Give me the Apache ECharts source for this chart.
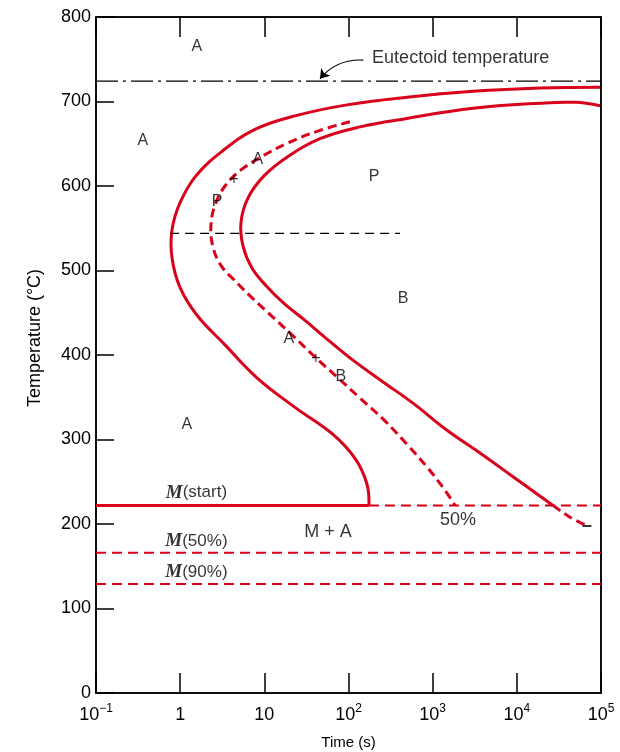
<!DOCTYPE html>
<html><head><meta charset="utf-8">
<script src="https://cdn.jsdelivr.net/npm/echarts@6/dist/echarts.min.js"></script>
<style>html,body{margin:0;padding:0;background:#fff}#c{width:620px;height:752px}</style>
</head><body><div id="c"></div>
<script>
// ---- data (time in s, temperature in °C) ----
const timeTicks = [0.1, 1, 10, 100, 1000, 10000, 100000];
const tempTicks = [0, 100, 200, 300, 400, 500, 600, 700, 800];

// start of transformation (solid)
const startTime = [97300, 18840, 3013, 495, 95.9, 23.1, 7.74, 3.14, 1.54, 0.995, 0.80, 0.80, 0.995, 1.585, 3.41, 8.18, 23.1, 65.4, 122.7, 166, 175];
const startTemp = [717, 716, 712, 705, 696, 683, 667, 641, 612, 580, 548, 515, 480, 447, 412, 373, 338, 306, 276, 247, 222];

// 50% completion (dashed)
const halfTime = [104, 43.4, 19.1, 9.38, 5.28, 3.41, 2.59, 2.32, 2.45, 3.05, 4.36, 6.76, 11.1, 20.2, 37.8, 73, 137, 271, 509, 880, 1400, 1842];
const halfTemp = [676, 665, 651, 635, 619, 600, 577, 553, 528, 506, 489, 470, 450, 426, 400, 374, 349, 322, 293, 266, 240, 222];

// completion of transformation (solid), tail below Ms (dashed)
const finishTime = [97300, 49100, 18840, 3013, 495, 137, 45.8, 19.1, 9.91, 6.40, 5.28, 5.58, 7.13, 10.5, 17.1, 30.4, 57, 116, 250, 583, 1480, 3650, 9000, 26900];
const finishTemp = [695, 699, 698, 692, 680, 670, 656, 635, 612, 586, 557, 529, 503, 482, 461, 441, 418, 393, 369, 343, 311, 284, 256, 222];
const finishTailTime = [26900, 42800, 64500];
const finishTailTemp = [222, 208, 199];
const endMarkTime = [68000], endMarkTemp = [197.6];

const eutectoidTemp = 724;
const msTemp = 222, msSolidEnd = 175;
const m50Temp = 166;
const m90Temp = 129;
const pbTemp = 544, pbFrom = 0.76, pbTo = 409;

const labelTexts = ['A', 'A', 'A', '+', 'P', 'P', 'B', 'A', '+', 'B', 'A', 'M(start)', '50%', 'M + A', 'M(50%)', 'M(90%)', 'Eutectoid temperature'];
const labelTimes = [1.58, 0.36, 8.4, 4.36, 2.74, 201, 444, 19.6, 41, 81, 1.2, 1.56, 2000, 57, 1.56, 1.56, 2150];
const labelTemps = [765, 654, 631, 607, 581, 611, 467, 420, 396, 374, 318, 237, 205, 191, 180, 143, 751];

const arrowFrom = [150, 749], arrowTo = [45.8, 727];

// ---- chart ----
const RED = '#d9001b';
const FONT = '"Liberation Sans", Arial, sans-serif';
const zip = (a, b) => a.map((v, i) => [v, b[i]]);
const hline = (y, x0, x1) => [[x0, y], [x1, y]];

const chart = echarts.init(document.getElementById('c'), null, {renderer: 'canvas'});

function fmtTime(v) {
  const e = Math.round(Math.log10(v));
  if (e === 0) return '{b|1}';
  if (e === 1) return '{b|10}';
  return '{b|10}{s|' + (e < 0 ? '\u2212' + (-e) : e) + '}';
}

// smooth curve drawn through the axes' coordinate conversion
function curveSeries(name, times, temps, dash, smooth) {
  return {
    type: 'custom', name: name, silent: true, animation: false, z: 3,
    data: zip(times, temps),
    renderItem: function (params, api) {
      if (params.dataIndex !== 0) return null;
      const pts = times.map((t, i) => api.coord([t, temps[i]]));
      return {
        type: 'polyline',
        shape: {points: pts, smooth: smooth},
        style: {stroke: RED, lineWidth: 3, fill: 'none', lineDash: dash || null, lineCap: 'butt', lineJoin: 'round'}
      };
    }
  };
}

const lineBase = {type: 'line', showSymbol: false, symbol: 'none', silent: true, animation: false};
const axisBlack = {color: '#000', width: 1.5};
const SMOOTH = 0.4;

const option = {
  animation: false,
  backgroundColor: '#fff',
  grid: {left: 96, right: 19, top: 17, bottom: 59, containLabel: false, outerBoundsMode: 'none',
         show: true, borderColor: '#000', borderWidth: 1.5, backgroundColor: 'transparent'},
  xAxis: [{
    type: 'log', logBase: 10, min: timeTicks[0], max: timeTicks[timeTicks.length - 1], splitNumber: 6,
    name: 'Time (s)', nameLocation: 'middle', nameGap: 42,
    nameTextStyle: {fontFamily: FONT, fontSize: 15, color: '#000'},
    axisLine: {show: true, onZero: false, lineStyle: axisBlack},
    axisTick: {show: true, inside: true, length: 20, lineStyle: axisBlack},
    axisLabel: {show: true, margin: 10, formatter: fmtTime, color: '#000',
      rich: {b: {fontFamily: FONT, fontSize: 18, lineHeight: 24, color: '#000'},
             s: {fontFamily: FONT, fontSize: 12, lineHeight: 12, verticalAlign: 'top', color: '#000'}}},
    splitLine: {show: false}
  }, {
    type: 'log', logBase: 10, min: timeTicks[0], max: timeTicks[timeTicks.length - 1], splitNumber: 6,
    position: 'top',
    axisLine: {show: true, onZero: false, lineStyle: axisBlack},
    axisTick: {show: true, inside: true, length: 20, lineStyle: axisBlack},
    axisLabel: {show: false}, splitLine: {show: false}
  }],
  yAxis: [{
    type: 'value', min: tempTicks[0], max: tempTicks[tempTicks.length - 1], interval: 100,
    name: 'Temperature (\u00B0C)', nameLocation: 'middle', nameGap: 52,
    nameTextStyle: {fontFamily: FONT, fontSize: 18, color: '#000', padding: [0, 0, 0, 34]},
    axisLine: {show: true, onZero: false, lineStyle: axisBlack},
    axisTick: {show: true, inside: true, length: 18, lineStyle: axisBlack},
    axisLabel: {show: true, margin: 5, fontFamily: FONT, fontSize: 18, color: '#000'},
    splitLine: {show: false}
  }, {
    type: 'value', min: tempTicks[0], max: tempTicks[tempTicks.length - 1], position: 'right',
    axisLine: {show: true, onZero: false, lineStyle: axisBlack},
    axisTick: {show: false}, axisLabel: {show: false}, splitLine: {show: false}
  }],
  series: [
    curveSeries('start', startTime, startTemp, null, SMOOTH),
    curveSeries('50%', halfTime, halfTemp, [9, 5], SMOOTH),
    curveSeries('finish', finishTime, finishTemp, null, SMOOTH),
    curveSeries('finishTail', finishTailTime, finishTailTemp, [9, 5], 0.3),
    Object.assign({}, lineBase, {name: 'Ms solid', data: hline(msTemp, timeTicks[0], msSolidEnd),
      lineStyle: {color: RED, width: 3}}),
    Object.assign({}, lineBase, {name: 'Ms dashed', data: hline(msTemp, msSolidEnd, timeTicks[6]),
      lineStyle: {color: RED, width: 2, type: [10, 6]}}),
    Object.assign({}, lineBase, {name: 'M50', data: hline(m50Temp, timeTicks[0], timeTicks[6]),
      lineStyle: {color: RED, width: 2, type: [10, 6]}}),
    Object.assign({}, lineBase, {name: 'M90', data: hline(m90Temp, timeTicks[0], timeTicks[6]),
      lineStyle: {color: RED, width: 2, type: [10, 6]}}),
    Object.assign({}, lineBase, {name: 'PB', data: hline(pbTemp, pbFrom, pbTo),
      lineStyle: {color: '#000', width: 1.2, type: [9, 6]}}),
    Object.assign({}, lineBase, {name: 'eutectoid', xAxisIndex: 1, data: hline(eutectoidTemp, timeTicks[0], timeTicks[6]),
      lineStyle: {color: '#000', width: 1.2, type: [22, 5, 3, 5]}}),
    {
      type: 'lines', coordinateSystem: 'cartesian2d', silent: true, animation: false, z: 5,
      symbol: ['none', 'arrow'], symbolSize: [0, 9],
      lineStyle: {color: '#000', width: 1.2, curveness: -0.25, opacity: 1},
      data: [{coords: [arrowFrom, arrowTo]}]
    },
    {
      type: 'scatter', silent: true, animation: false, symbol: 'rect', symbolSize: [9, 2],
      itemStyle: {color: '#000'}, data: zip(endMarkTime, endMarkTemp)
    },
    {
      type: 'scatter', silent: true, animation: false, symbolSize: 0, z: 10,
      data: labelTexts.map((t, i) => ({name: t, value: [labelTimes[i], labelTemps[i]]})),
      label: {show: true, position: 'inside', color: '#000', fontFamily: FONT, fontSize: 16,
        formatter: p => {
          const n = p.name;
          if (n.startsWith('M(')) return '{m|M}{t|' + n.slice(1) + '}';
          if (n === 'Eutectoid temperature') return '{e|' + n + '}';
          if (n === '50%' || n === 'M + A') return '{w|' + n + '}';
          return n;
        },
        rich: {m: {fontFamily: '"Liberation Serif", "Times New Roman", serif', fontStyle: 'italic', fontWeight: 'bold', fontSize: 19, color: '#000'},
               t: {fontFamily: FONT, fontSize: 17, color: '#000'},
               e: {fontFamily: FONT, fontSize: 18, color: '#000'},
               w: {fontFamily: FONT, fontSize: 18, color: '#000'}}}
    }
  ]
};
chart.setOption(option);
</script>
</body></html>
